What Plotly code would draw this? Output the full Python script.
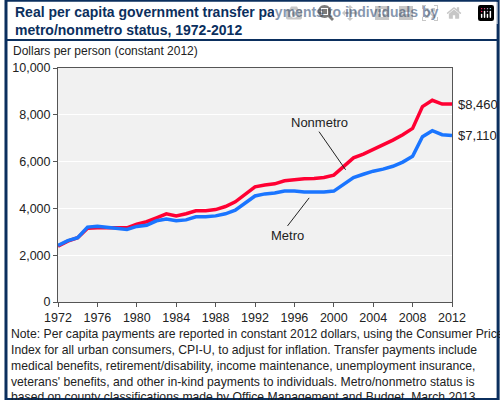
import plotly.graph_objects as go

years = list(range(1972, 2013))
nonmetro = [2380,2600,2750,3150,3170,3170,3160,3170,3330,3430,3600,3770,3680,3770,3900,3900,3950,4080,4280,4600,
            4920,5000,5050,5180,5230,5270,5280,5320,5420,5800,6160,6320,6520,6680,6920,7150,7420,8350,8620,8460,8460]
metro = [2420,2620,2750,3200,3240,3200,3150,3100,3230,3280,3470,3550,3470,3510,3640,3640,3680,3770,3920,4230,
         4530,4620,4660,4740,4740,4700,4700,4700,4740,5010,5320,5460,5590,5680,5800,5980,6230,7060,7320,7150,7110]
xticks = list(range(1972, 2013, 4))
yticks = [0, 2000, 4000, 6000, 8000, 10000]

fig = go.Figure()
fig.add_trace(go.Scatter(x=years, y=nonmetro, mode="lines", line=dict(color="#ff0033", width=3.5), name="Nonmetro"))
fig.add_trace(go.Scatter(x=years, y=metro, mode="lines", line=dict(color="#1a75ff", width=3.5), name="Metro"))

F = "Arial, Liberation Sans, sans-serif"
fig.update_layout(
    width=500, height=400, showlegend=False,
    paper_bgcolor="white", plot_bgcolor="#f1f1f1",
    margin=dict(l=54, r=48, t=68, b=98),
    font=dict(family=F, size=12.5, color="#222"),
    xaxis=dict(range=[1972, 2012], tickvals=xticks, showgrid=False, showline=True, linecolor="#555",
               mirror=True, ticks="outside", ticklen=4, tickcolor="#555", zeroline=False),
    yaxis=dict(range=[0, 10000], tickvals=yticks, tickformat=",", gridcolor="white", gridwidth=1,
               showline=True, linecolor="#555", mirror=True, ticks="outside", ticklen=4, tickcolor="#555",
               zeroline=False),
)
fig.add_shape(type="rect", xref="paper", yref="paper", x0=-0.132, x1=1.117, y0=-0.417, y1=1.29,
              line=dict(color="#0b2f5e", width=3), layer="above")
fig.add_shape(type="line", xref="paper", yref="paper", x0=-0.132, x1=1.117, y0=1.12, y1=1.12,
              line=dict(color="#0b2f5e", width=2))
fig.add_annotation(xref="paper", yref="paper", x=-0.115, y=1.28, xanchor="left", yanchor="top", showarrow=False,
                   align="left", font=dict(size=14, color="#0b2f5e", family=F),
                   text="<b>Real per capita government transfer payments to individuals by<br>metro/nonmetro status, 1972-2012</b>")
fig.add_annotation(xref="paper", yref="paper", x=-0.12, y=1.11, xanchor="left", yanchor="top", showarrow=False,
                   font=dict(size=12, color="#222"), text="Dollars per person (constant 2012)")
fig.add_annotation(x=2012, y=nonmetro[-1], xanchor="left", showarrow=False, xshift=4, font=dict(size=13),
                   text="$8,460")
fig.add_annotation(x=2012, y=metro[-1], xanchor="left", showarrow=False, xshift=4, font=dict(size=13),
                   text="$7,110")
fig.add_annotation(x=2001.2, y=5650, ax=1998.5, ay=7280, axref="x", ayref="y", showarrow=True, arrowhead=0,
                   arrowwidth=1, arrowcolor="#222", text="Nonmetro", font=dict(size=13), yanchor="bottom")
fig.add_annotation(x=1997.5, y=4450, ax=1995.3, ay=3250, axref="x", ayref="y", showarrow=True, arrowhead=0,
                   arrowwidth=1, arrowcolor="#222", text="Metro", font=dict(size=13), yanchor="top")
fig.add_annotation(xref="paper", yref="paper", x=-0.125, y=-0.1, xanchor="left", yanchor="top", showarrow=False,
                   align="left", font=dict(size=12.2, color="#222"),
                   text="Note: Per capita payments are reported in constant 2012 dollars, using the Consumer Price<br>"
                        "Index for all urban consumers, CPI-U, to adjust for inflation. Transfer payments include<br>"
                        "medical benefits, retirement/disability, income maintenance, unemployment insurance,<br>"
                        "veterans' benefits, and other in-kind payments to individuals. Metro/nonmetro status is<br>"
                        "based on county classifications made by Office Management and Budget, March 2013.<br>"
                        "Source: USDA, Economic Research Service using data from Bureau of Economic Analysis.")
fig.write_html("out.html", post_script="document.body.style.margin='0';document.body.style.overflow='hidden';")
